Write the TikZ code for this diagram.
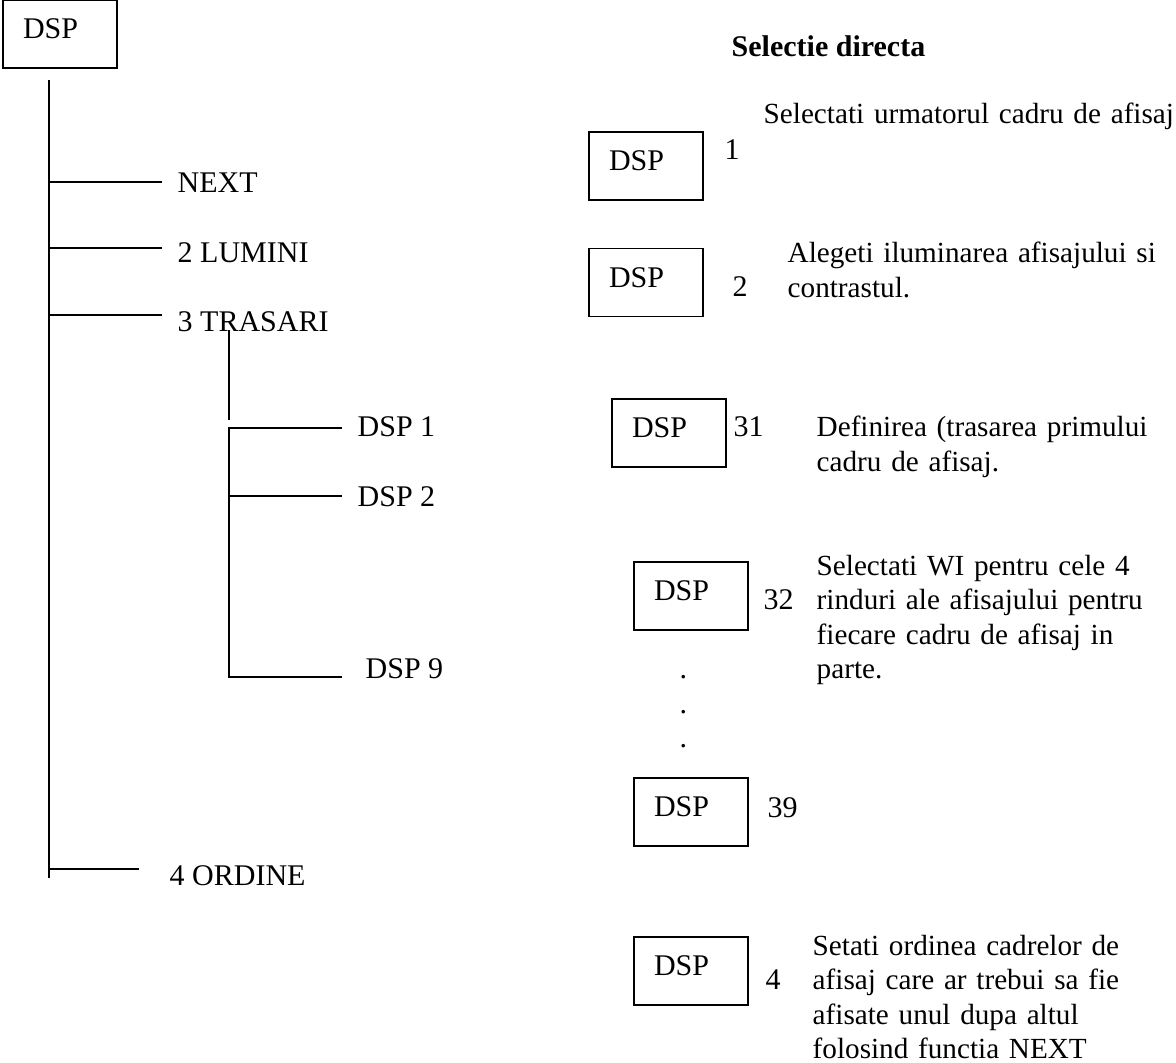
\documentclass[tikz,border=0pt]{standalone}
\usepackage{fontspec}
\setmainfont{Liberation Serif}
\usetikzlibrary{positioning}

\begin{document}
\begin{tikzpicture}[x=0.5pt, y=-0.5pt, line width=0.7pt,
    every node/.style={font=\fontsize{15pt}{17.25pt}\selectfont},
    dspbox/.style={draw, rectangle, minimum width=57pt, minimum height=34pt,
      inner xsep=10pt, text width=37pt, align=left, text depth=5.4pt},
    lbl/.style={inner sep=0pt, anchor=base west},
    note/.style={inner sep=0pt, anchor=base west, text width=260pt, align=left,
      font=\fontsize{14.6pt}{17.25pt}\selectfont}]

  \useasboundingbox (0,0) rectangle (1176,1063);

  % arborele meniului DSP
  \node[dspbox] (root) at (60,34) {DSP};
  \node[lbl] (next) at (177,193) {NEXT};
  \node[lbl] (lumini) at (177,263) {2 LUMINI};
  \node[lbl] (trasari) at (177,332) {3 TRASARI};
  \node[lbl] (dspA) at (357,437) {DSP 1};
  \node[lbl] (dspB) at (357,506) {DSP 2};
  \node[lbl] (dspC) at (365,678) {DSP 9};
  \node[lbl] (ordine) at (169,885) {4 ORDINE};

  \coordinate (trunk) at (49,80);
  \coordinate (trunkend) at (49,878);
  \coordinate (eNext) at (162,182);
  \coordinate (eLumini) at (162,248);
  \coordinate (eTrasari) at (162,315);
  \coordinate (eOrdine) at (139,869);
  \draw (trunk) -- (trunkend);
  \draw (trunk |- eNext) -- (eNext);
  \draw (trunk |- eLumini) -- (eLumini);
  \draw (trunk |- eTrasari) -- (eTrasari);
  \draw (trunk |- eOrdine) -- (eOrdine);

  \coordinate (sub) at (229,330);
  \coordinate (subend) at (229,420);
  \coordinate (eA) at (342,428);
  \coordinate (eB) at (342,496);
  \coordinate (eC) at (342,677);
  \draw (sub) -- (subend);
  \draw (eA) -- (sub |- eA) -- (sub |- eC) -- (eC);
  \draw (sub |- eB) -- (eB);

  % selectie directa
  \node[lbl, font=\fontsize{15pt}{17.25pt}\selectfont\bfseries] (titlu) at (731,57) {Selectie directa};

  \node[dspbox] (k1) at (646,166) {DSP};
  \node[dspbox] (k2) at (646,282.5) {DSP};
  \node[dspbox] (k31) at (669,433) {DSP};
  \node[dspbox] (k32) at (691,596) {DSP};
  \node[dspbox] (k39) at (691,812) {DSP};
  \node[dspbox] (k4) at (691,971) {DSP};

  \node[lbl] (n1) at (724,160) {1};
  \node[lbl] (n2) at (732,297) {2};
  \node[lbl] (n31) at (733,437) {31};
  \node[lbl] (n32) at (763,609) {32};
  \node[lbl] (n39) at (767,817) {39};
  \node[lbl] (n4) at (765,989) {4};

  \node[lbl] (p1) at (679,678) {.};
  \node[lbl] (p2) at (679,713) {.};
  \node[lbl] (p3) at (679,747) {.};

  \node[note] (d1) at (763,124) {Selectati urmatorul cadru de afisaj};
  \node[note] (d2) at (787,263) {Alegeti iluminarea afisajului si\\contrastul.};
  \node[note] (d31) at (816,437) {Definirea (trasarea primului\\cadru de afisaj.};
  \node[note] (d32) at (816,575) {Selectati WI pentru cele 4\\rinduri ale afisajului pentru\\fiecare cadru de afisaj in\\parte.};
  \node[note] (d4) at (812,955) {Setati ordinea cadrelor de\\afisaj care ar trebui sa fie\\afisate unul dupa altul\\folosind functia NEXT};
\end{tikzpicture}
\end{document}
